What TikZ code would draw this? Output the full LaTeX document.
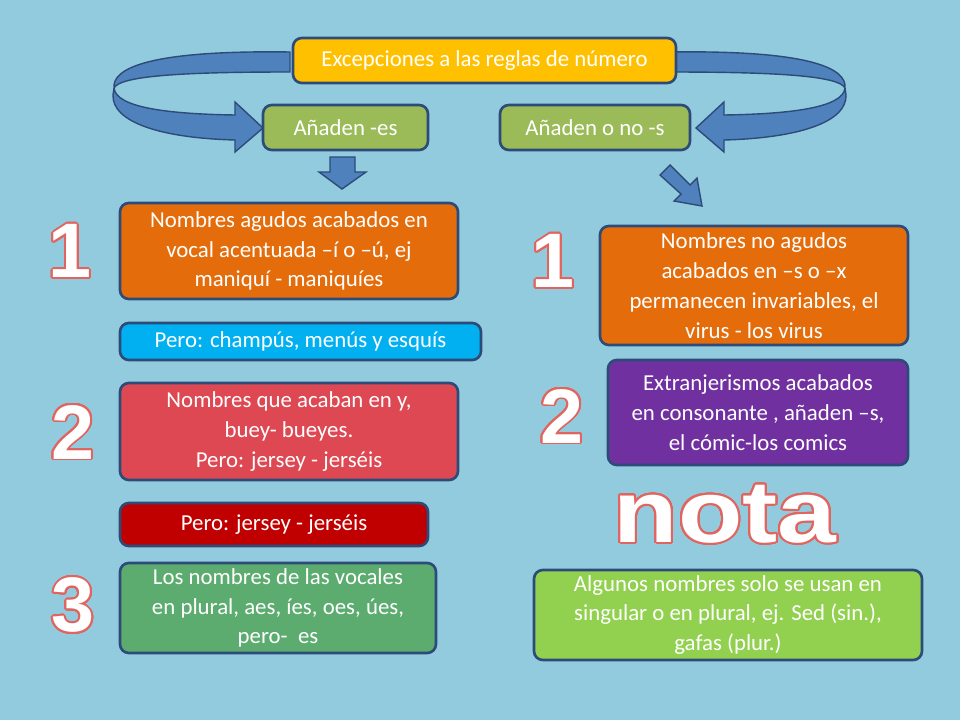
\documentclass[tikz,border=0pt]{standalone}
\usepackage{fontspec}
\setmainfont{Carlito}
\newfontfamily\bigfont{Liberation Sans}
\usepackage{graphicx}
\usepackage{contour}
\contourlength{1.0pt}
\contournumber{32}
\definecolor{bg}{RGB}{147,203,222}
\definecolor{ttl}{RGB}{255,192,0}
\definecolor{grn}{RGB}{155,187,89}
\definecolor{org}{RGB}{228,108,10}
\definecolor{lbl}{RGB}{0,176,240}
\definecolor{rd}{RGB}{221,72,82}
\definecolor{drd}{RGB}{192,0,0}
\definecolor{gr3}{RGB}{92,172,112}
\definecolor{pur}{RGB}{112,48,160}
\definecolor{lgr}{RGB}{146,208,80}
\definecolor{edge}{RGB}{45,75,120}
\definecolor{arr}{RGB}{79,129,189}
\definecolor{big}{RGB}{225,100,95}
\begin{document}
\begin{tikzpicture}[x=0.02cm,y=-0.02cm,
 box/.style={draw=edge,line width=1.5pt,rounded corners=5pt,text=white,align=center,font=\fontsize{13}{17}\selectfont,inner sep=2pt},
 bigtxt/.style={font=\fontsize{44}{44}\selectfont\bfseries\bigfont},
 barr/.style={fill=arr,draw=edge,line width=0.8pt}]
\useasboundingbox[fill=bg] (0,0) rectangle (960,720);
% curved arrows
\foreach \s in {1,-1}{
\begin{scope}[xshift={(1-\s)*479.5*0.02cm},xscale=\s]
\filldraw[barr] (290,52) .. controls (150,50) and (112,68) .. (114,88)
 .. controls (116,108) and (170,114) .. (235,115) -- (235,102) -- (263,128) -- (235,152) -- (235,140)
 .. controls (160,138) and (112,122) .. (113,95) -- (114,88) .. controls (120,76) and (180,72) .. (290,72) -- cycle;
\end{scope}}
% block arrows
\filldraw[barr] (330,157) -- (355,157) -- (355,172) -- (366,172) -- (342,189) -- (319,172) -- (330,172) -- cycle;
\filldraw[barr] (660,175) -- (670,165) -- (690,185) -- (697,178) -- (702,206) -- (674,201) -- (681,194) -- cycle;
% boxes
\node[box,fill=ttl,minimum width=383*0.02cm,minimum height=45*0.02cm] (t) at (484.5,60.5) {Excepciones a las reglas de número};
\node[box,fill=grn,minimum width=165*0.02cm,minimum height=45*0.02cm] (a) at (345.5,127.5) {Añaden -es};
\node[box,fill=grn,minimum width=190*0.02cm,minimum height=45*0.02cm] (b) at (595,127.5) {Añaden o no -s};
\node[box,fill=org,minimum width=338*0.02cm,minimum height=96*0.02cm] (l1) at (289,251) {Nombres agudos acabados en\\vocal acentuada –í o –ú, ej\\maniquí - maniquíes};
\node[box,fill=lbl,minimum width=361*0.02cm,minimum height=37*0.02cm] (p1) at (300.5,341.5) {Pero: champús, menús y esquís};
\node[box,fill=rd,minimum width=338*0.02cm,minimum height=97*0.02cm] (l2) at (289,431.5) {Nombres que acaban en y,\\buey- bueyes.\\Pero: jersey - jerséis};
\node[box,fill=drd,minimum width=308*0.02cm,minimum height=43*0.02cm] (p2) at (274,524.5) {Pero: jersey - jerséis};
\node[box,fill=gr3,minimum width=316*0.02cm,minimum height=90*0.02cm] (l3) at (278,608) {Los nombres de las vocales\\en plural, aes, íes, oes, úes,\\pero-\ \ es};
\node[box,fill=org,minimum width=308*0.02cm,minimum height=119*0.02cm] (r1) at (754,285.5) {Nombres no agudos\\acabados en –s o –x\\permanecen invariables, el\\virus - los virus};
\node[box,fill=pur,minimum width=300*0.02cm,minimum height=105*0.02cm] (r2) at (758,412.5) {Extranjerismos acabados\\en consonante , añaden –s,\\el cómic-los comics};
\node[box,fill=lgr,minimum width=388*0.02cm,minimum height=90*0.02cm] (r3) at (728,615) {Algunos nombres solo se usan en\\singular o en plural, ej. Sed (sin.),\\gafas (plur.)};
% big outlined labels
\node[bigtxt] (n1) at (70,252) {\contour{big}{\textcolor{white}{1}}};
\node[bigtxt] (n2) at (553,262) {\contour{big}{\textcolor{white}{1}}};
\node[bigtxt] (n3) at (73,433) {\contour{big}{\textcolor{white}{2}}};
\node[bigtxt] (n4) at (562,417) {\contour{big}{\textcolor{white}{2}}};
\node[bigtxt] (n5) at (73,606) {\contour{big}{\textcolor{white}{3}}};
\node[bigtxt,font=\fontsize{50}{50}\selectfont\bfseries\bigfont] (n6) at (725,515) {\scalebox{1.2}[1]{\contour{big}{\textcolor{white}{nota}}}};
\end{tikzpicture}
\end{document}
